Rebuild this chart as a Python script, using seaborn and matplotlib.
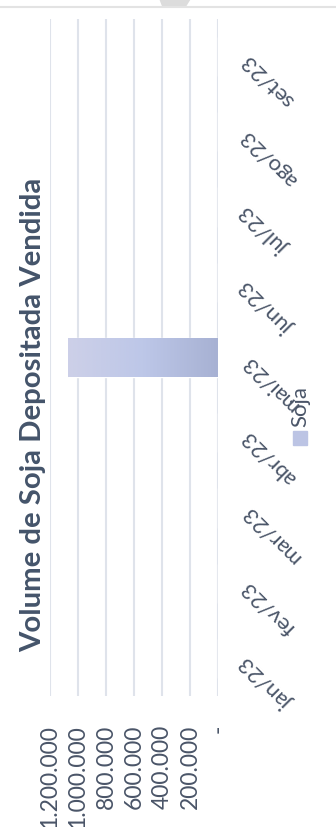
import numpy as np
import pandas as pd
import matplotlib
matplotlib.use("Agg")
import matplotlib.pyplot as plt
import seaborn as sns
from matplotlib.colors import LinearSegmentedColormap
from matplotlib.patches import Rectangle, Polygon
from matplotlib.lines import Line2D

months = ["jan/23", "fev/23", "mar/23", "abr/23", "mai/23", "jun/23", "jul/23", "ago/23", "set/23"]
volumes = [0, 0, 0, 0, 1070000, 0, 0, 0, 0]
value_ticks = [0, 200000, 400000, 600000, 800000, 1000000, 1200000]
series_name = "Soja"
title = "Volume de Soja Depositada Vendida"

TEXT = "#44546a"
TICK = "#4a5568"

df = pd.DataFrame({"mes": months, "volume": volumes})

sns.set_theme(style="white")
plt.rcParams["font.family"] = ["Lato", "DejaVu Sans"]

W, H = 336, 828
fig = plt.figure(figsize=(W / 100, H / 100), dpi=100)
ax = fig.add_axes([50 / W, 131 / H, 168 / W, 677 / H])

sns.barplot(data=df, x="volume", y="mes", order=months[::-1], orient="h",
            width=0.52, color="#bcc4e4", saturation=1, ax=ax)

ax.set_xlim(max(value_ticks), 0)
ylim = ax.get_ylim()

# gradient fill on the bars
cmap = LinearSegmentedColormap.from_list("soja", ["#cdd0e8", "#bdc7e8", "#a7b1d3"])
grad = np.linspace(0, 1, 256).reshape(1, -1)
for bar in list(ax.patches):
    if bar.get_width() == 0:
        continue
    x0, y0, w, h = bar.get_x(), bar.get_y(), bar.get_width(), bar.get_height()
    im = ax.imshow(grad, extent=[x0 + w, x0, y0 + h, y0], aspect="auto",
                   cmap=cmap, zorder=bar.get_zorder() + 0.1)
    im.set_clip_path(bar)
ax.set_xlim(max(value_ticks), 0)
ax.set_ylim(ylim)

ax.set_xticks(value_ticks)
ax.set_xticklabels(["-" if v == 0 else f"{v:,}".replace(",", ".") for v in value_ticks],
                   rotation=90, fontsize=16.5, color=TICK)
ax.tick_params(axis="x", length=0, pad=20)

ax.yaxis.tick_right()
ax.tick_params(axis="y", length=0, pad=19, labelsize=16, labelcolor=TICK)
for lab in ax.get_yticklabels():
    lab.set_rotation(135)
    lab.set_rotation_mode("anchor")
    lab.set_ha("right")
    lab.set_va("center")

ax.set_xlabel("")
ax.set_ylabel("")
ax.grid(axis="x", color="#dfe3eb", lw=1.5)
ax.grid(axis="y", visible=False)
ax.set_axisbelow(True)
sns.despine(ax=ax, left=True, bottom=True)

# title
fig.text(33 / W, 1 - 415 / H, title, rotation=90, ha="center", va="center",
         fontsize=21.2, fontweight="bold", color=TEXT)

# legend
fig.patches.append(Rectangle((293 / W, 1 - 446 / H), 14 / W, 14 / H,
                             transform=fig.transFigure, color="#bcc4e4"))
fig.text(300 / W, 1 - 407 / H, series_name, rotation=90, ha="center", va="center",
         fontsize=16, color=TICK)

# frame remnants at the top
fig.add_artist(Line2D([0, 1], [1 - 8 / H, 1 - 8 / H], transform=fig.transFigure,
                      color="#e3e3e3", lw=1.5))
fig.patches.append(Polygon([(160 / W, 1), (190 / W, 1), (185 / W, 1 - 8 / H), (163 / W, 1 - 8 / H)],
                           closed=True, transform=fig.transFigure, color="#dcdcdc"))

fig.savefig("out.png", dpi=100)
print("Saved: out.png")
